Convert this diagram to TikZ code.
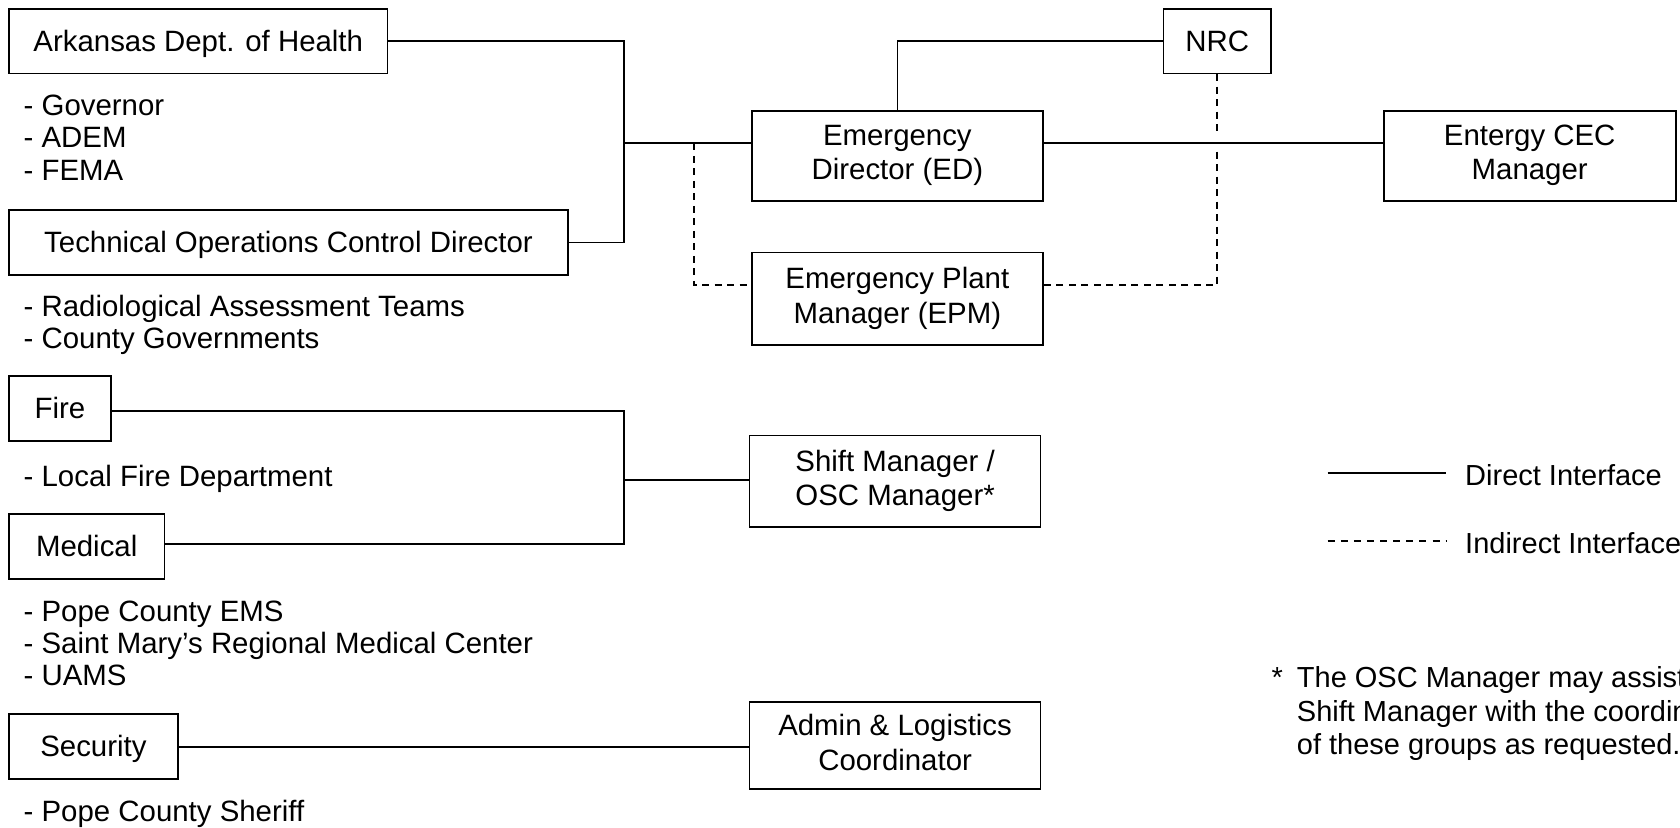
\documentclass[tikz,border=0pt]{standalone}
\usepackage{fontspec}
\setmainfont{Liberation Sans}
\newcommand\dgfont{\fontsize{29.4pt}{34.2pt}\selectfont}
\newcommand\sidefont{\fontsize{29pt}{34pt}\selectfont}
\newcommand\bstrut{\rule[-6.9pt]{0pt}{34pt}}
\begin{document}
\begin{tikzpicture}[x=1pt,y=-1pt,
  box/.style={draw,line width=1.7pt,inner sep=0pt,align=center,font=\dgfont,
    execute at begin node=\bstrut,execute at end node=\bstrut},
  conn/.style={line width=1.7pt},
  ind/.style={line width=1.7pt,dash pattern=on 7pt off 5.5pt},
  txt/.style={anchor=base west,inner sep=0pt,font=\dgfont},
  sidetxt/.style={anchor=base west,inner sep=0pt,font=\sidefont}]
\useasboundingbox (0,0) rectangle (1680,827);
\clip (0,0) rectangle (1680,827);
% boxes
\node[box,minimum width=378.5pt,minimum height=64.3pt] (ark) at (198.25,41.2) {Arkansas Dept. of Health};
\node[box,minimum width=559pt,minimum height=65pt] (tocd) at (288.5,242.5) {Technical Operations Control Director};
\node[box,minimum width=107.6pt,minimum height=64.3pt] (nrc) at (1217.2,41.2) {NRC};
\node[box,minimum width=291pt,minimum height=90pt] (ed) at (897.35,156) {Emergency\\Director (ED)};
\node[box,minimum width=292pt,minimum height=90pt] (cec) at (1529.7,156) {Entergy CEC\\Manager};
\node[box,minimum width=291pt,minimum height=92.7pt] (epm) at (897.35,298.7) {Emergency Plant\\Manager (EPM)};
\node[box,minimum width=101.7pt,minimum height=65pt] (fire) at (59.9,408.2) {Fire};
\node[box,minimum width=155.3pt,minimum height=65pt] (med) at (86.7,546.2) {Medical};
\node[box,minimum width=168.7pt,minimum height=65pt] (sec) at (93.4,746.8) {Security};
\node[box,minimum width=291pt,minimum height=91.7pt] (shift) at (895.1,481.2) {Shift Manager /\\OSC Manager*};
\node[box,minimum width=291pt,minimum height=87pt] (admin) at (895.1,745.8) {Admin \& Logistics\\Coordinator};
% junctions
\coordinate (j1) at (624,143.3);
\coordinate (j2) at (624,480);
\coordinate (d1) at (693.75,285);
\coordinate (g1) at (0,131.7);
\coordinate (g2) at (0,151.7);
% connectors
\draw[conn] (ark.east) -| (j1) |- (tocd.east);
\draw[conn] (j1) -- (j1 -| ed.west);
\draw[conn] (ed.east |- j1) -- (cec.west |- j1);
\draw[conn] (ed.north) |- (nrc.west);
\draw[ind] (j1 -| d1) -- (d1) -- (d1 -| epm.west);
\draw[ind] (nrc.south) -- (nrc.south |- g1);
\draw[ind] (nrc.south |- g2) |- (epm.east |- d1);
\draw[conn] ([yshift=-2.5pt]fire.east) -| (j2) |- ([yshift=1.9pt]med.east);
\draw[conn] (j2) -- (j2 -| shift.west);
\draw[conn] (sec.east) -- (sec.east -| admin.west);
% lists
\node[txt] (l1) at (23.5,115) {- Governor};
\node[txt] (l2) at (23.5,147.3) {- ADEM};
\node[txt] (l3) at (23.5,180) {- FEMA};
\node[txt] (l4) at (23.5,316) {- Radiological Assessment Teams};
\node[txt] (l5) at (23.5,348) {- County Governments};
\node[txt] (l6) at (23.5,486) {- Local Fire Department};
\node[txt] (l7) at (23.5,621) {- Pope County EMS};
\node[txt] (l8) at (23.5,653.3) {- Saint Mary’s Regional Medical Center};
\node[txt] (l9) at (23.5,685.5) {- UAMS};
\node[txt] (l10) at (23.5,821) {- Pope County Sheriff};
% legend
\coordinate (la) at (1327.7,472.7);
\coordinate (lb) at (1445.7,472.7);
\coordinate (lc) at (1327.7,541);
\coordinate (ld) at (1445.7,541);
\draw[conn] (la) -- (lb);
\draw[line width=1.5pt,dash pattern=on 7pt off 6.1pt] (lc) -- (ld);
\node[sidetxt] (dl) at (1465,485) {Direct Interface};
\node[sidetxt] (il) at (1465,553) {Indirect Interface};
% footnote
\node[sidetxt] (ast) at (1271.4,687.5) {*};
\node[sidetxt] (f1) at (1296.7,687.5) {The OSC Manager may assist the};
\node[sidetxt] (f2) at (1296.7,721) {Shift Manager with the coordination};
\node[sidetxt] (f3) at (1296.7,754.5) {of these groups as requested.};
\end{tikzpicture}
\end{document}
